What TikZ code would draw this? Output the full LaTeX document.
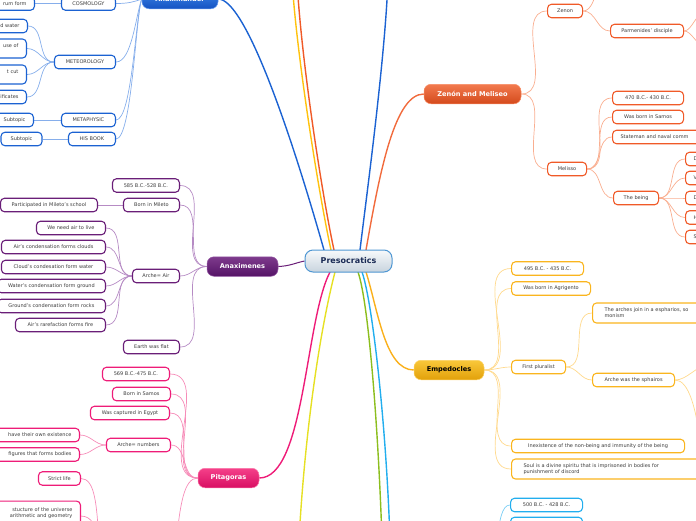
\documentclass[tikz,border=0pt]{standalone}
\usepackage{fontspec}
\setmainfont{DejaVu Sans}
\usetikzlibrary{backgrounds}
\definecolor{cA}{HTML}{1B62D2}\definecolor{lA}{HTML}{86AEEB}
\definecolor{cP}{HTML}{6A1E78}\definecolor{lP}{HTML}{B68BC4}
\definecolor{cK}{HTML}{EE1C78}\definecolor{lK}{HTML}{F68CB8}
\definecolor{cZ}{HTML}{F05A28}\definecolor{lZ}{HTML}{F9AE90}
\definecolor{cE}{HTML}{FAB51E}\definecolor{lE}{HTML}{FFD98C}
\definecolor{cB}{HTML}{22AEEE}\definecolor{cG}{HTML}{8CBE1E}
\definecolor{cY}{HTML}{E6E023}\definecolor{cO}{HTML}{FFC20E}
\definecolor{txt}{HTML}{3C3C3C}
\definecolor{preB}{HTML}{4F97D3}\definecolor{preT}{HTML}{1A2B55}
\definecolor{preTop}{HTML}{F7F9FB}\definecolor{preBot}{HTML}{C8D4DE}
\tikzset{
 sub/.style={draw, line width=1.1pt, rounded corners=4pt, fill=white, text=txt,
   font=\fontsize{5}{6.2}\selectfont, inner xsep=8pt, inner ysep=1pt, minimum height=13.5pt},
 topic/.style={rounded corners=7pt, minimum height=19.5pt, text=white, line width=0.5pt,
   font=\bfseries\fontsize{6.6}{8}\selectfont, inner sep=0pt},
 lnk/.style={line width=0.7pt},
 big/.style={line width=1.4pt},
}
\begin{document}
\begin{tikzpicture}[x=1pt,y=-1pt]
\useasboundingbox (0,0) rectangle (696,520);

% ---------- central ----------
\node[draw=preB, line width=1pt, rounded corners=8pt, top color=preTop, bottom color=preBot,
  minimum width=87pt, minimum height=22pt, inner sep=0pt, text=preT,
  font=\bfseries\fontsize{8}{9}\selectfont] (pre) at (348.5,261) {Presocratics};

% ---------- Anaximander ----------
\node[topic, draw={rgb,255:red,110;green,160;blue,240}, top color={rgb,255:red,63;green,136;blue,234}, bottom color={rgb,255:red,21;green,83;blue,194}, minimum width=76pt] (anaxr) at (180,-1) {Anaximander};
\node[sub, draw=cA, minimum width=54pt, anchor=east] (cosmo) at (116,3.5) {COSMOLOGY};
\node[sub, draw=cA, text width=60pt, align=right, anchor=east] (cosmoc) at (35,3.5) {rum form};
\node[sub, draw=cA, minimum width=61pt, anchor=east] (meteo) at (116,62) {METEOROLOGY};
\node[sub, draw=cA, text width=50pt, align=right, anchor=east] (m1) at (28,26) {d water};
\node[sub, draw=cA, text width=50pt, align=right, anchor=east, minimum height=19pt] (m2) at (27,48.5) {use of\\\mbox{}};
\node[sub, draw=cA, text width=50pt, align=right, anchor=east, minimum height=19pt] (m3) at (27,74.5) {t cut\\\mbox{}};
\node[sub, draw=cA, text width=50pt, align=right, anchor=east] (m4) at (27,97) {ificates};
\node[sub, draw=cA, minimum width=54pt, anchor=east] (meta) at (116,120) {METAPHYSIC};
\node[sub, draw=cA, text width=40pt, align=right, anchor=east] (metac) at (34,120) {Subtopic};
\node[sub, draw=cA, minimum width=47pt, anchor=east] (book) at (116,139) {HIS BOOK};
\node[sub, draw=cA, minimum width=41pt] (bookc) at (21.5,139) {Subtopic};

% ---------- Anaximenes ----------
\node[topic, draw={rgb,255:red,150;green,90;blue,165}, top color={rgb,255:red,126;green,58;blue,140}, bottom color={rgb,255:red,85;green,20;blue,103}, minimum width=71pt] (anaxm) at (242.5,266.5) {Anaximenes};
\node[sub, draw=cP, minimum width=67pt, anchor=east] (a1) at (180,185.5) {585 B.C.-528 B.C.};
\node[sub, draw=cP, minimum width=56pt, anchor=east] (a2) at (180,205) {Born in Mileto};
\node[sub, draw=cP, minimum width=97pt, anchor=east] (a2c) at (98,205) {Participated in Mileto's school};
\node[sub, draw=cP, minimum width=47pt, anchor=east] (a3) at (180,276) {Arche= Air};
\node[sub, draw=cP, minimum width=69pt, anchor=east] (a31) at (106,228) {We need air to live};
\node[sub, draw=cP, minimum width=104pt, anchor=east] (a32) at (106,247) {Air's condensation forms clouds};
\node[sub, draw=cP, minimum width=104pt, anchor=east] (a33) at (106,267) {Cloud's condesation form water};
\node[sub, draw=cP, minimum width=108pt, anchor=east] (a34) at (106,286) {Water's condensation form ground};
\node[sub, draw=cP, minimum width=108pt, anchor=east] (a35) at (106,306) {Ground's condensation form rocks};
\node[sub, draw=cP, minimum width=90pt, anchor=east] (a36) at (106,325) {Air's rarefaction forms fire};
\node[sub, draw=cP, minimum width=56pt, anchor=east] (a4) at (180,347) {Earth was flat};

% ---------- Pitagoras ----------
\node[topic, draw={rgb,255:red,250;green,120;blue,170}, top color={rgb,255:red,245;green,64;blue,138}, bottom color={rgb,255:red,216;green,14;blue,98}, minimum width=61pt] (pita) at (228.5,478) {Pitagoras};
\node[sub, draw=cK, minimum width=67pt, anchor=east] (p1) at (170,374) {569 B.C.-475 B.C.};
\node[sub, draw=cK, minimum width=58pt, anchor=east] (p2) at (171,394) {Born in Samos};
\node[sub, draw=cK, minimum width=79pt, anchor=east] (p3) at (170,413) {Was captured in Egypt};
\node[sub, draw=cK, minimum width=64pt, anchor=east] (p4) at (171,445) {Arche= numbers};
\node[sub, draw=cK, text width=78pt, align=right, anchor=east] (p4a) at (80,435) {have their own existence};
\node[sub, draw=cK, text width=78pt, align=right, anchor=east] (p4b) at (80,454.5) {figures that forms bodies};
\node[sub, draw=cK, minimum width=42pt, anchor=east] (p5) at (81,478.5) {Strict life};
\node[sub, draw=cK, text width=70pt, align=right, anchor=north east, minimum height=30pt, inner ysep=3pt] (p6) at (81,500.5) {stucture of the universe\hspace*{5pt}\\arithmetic and geometry\\\mbox{}};
\coordinate (pbelow) at (99,545);
\coordinate (pitabelow) at (176,545);

% ---------- Zenon and Meliseo ----------
\node[topic, draw={rgb,255:red,248;green,140;blue,100}, top color={rgb,255:red,242;green,122;blue,78}, bottom color={rgb,255:red,212;green,74;blue,28}, minimum width=97pt] (zen) at (472.5,94) {Zenón and Meliseo};
\node[sub, draw=cZ, minimum width=35pt, anchor=west] (z1) at (547,11) {Zenon};
\coordinate (z1up) at (597,-12);
\node[sub, draw=cZ, minimum width=73pt, anchor=west] (z2) at (610,31) {Parmenides' disciple};
\coordinate (z2a) at (706,12);
\coordinate (z2b) at (706,46);
\node[sub, draw=cZ, minimum width=39pt, anchor=west] (z3) at (547,169) {Melisso};
\node[sub, draw=cZ, minimum width=71pt, anchor=west] (z31) at (612,98) {470 B.C.- 430 B.C.};
\node[sub, draw=cZ, minimum width=71pt, anchor=west] (z32) at (612,117) {Was born in Samos};
\node[sub, draw=cZ, text width=110pt, align=left, anchor=west] (z33) at (612,137) {Stateman and naval comm};
\node[sub, draw=cZ, minimum width=45pt, anchor=west] (z34) at (613,198) {The being};
\node[sub, draw=cZ, text width=40pt, align=left, anchor=west] (b1) at (685,159) {D};
\node[sub, draw=cZ, text width=40pt, align=left, anchor=west] (b2) at (685,178) {V};
\node[sub, draw=cZ, text width=40pt, align=left, anchor=west] (b3) at (685,198) {D};
\node[sub, draw=cZ, text width=40pt, align=left, anchor=west] (b4) at (685,217.5) {H};
\node[sub, draw=cZ, text width=40pt, align=left, anchor=west] (b5) at (685,237) {S};

% ---------- Empedocles ----------
\node[topic, draw={rgb,255:red,252;green,210;blue,100}, top color={rgb,255:red,249;green,199;blue,58}, bottom color={rgb,255:red,226;green,160;blue,10}, minimum width=70pt, text=black] (emp) at (449,370) {Empedocles};
\node[sub, draw=cE, minimum width=72pt, anchor=west] (e1) at (511,268.5) {495 B.C. - 435 B.C.};
\node[sub, draw=cE, minimum width=79pt, anchor=west] (e2) at (511,288.5) {Was born in Agrigento};
\node[sub, draw=cE, minimum width=54pt, anchor=west] (e3) at (511,367) {First pluralist};
\node[sub, draw=cE, text width=140pt, align=left, anchor=west, inner xsep=12pt, minimum height=20pt] (e3a) at (592,313) {The arches join in a espharios, so\\monism};
\node[sub, draw=cE, minimum width=82pt, anchor=west] (e3b) at (592,380) {Arche was the sphairos};
\coordinate (e3ba) at (706,366);
\coordinate (e3bb) at (700,440);
\node[sub, draw=cE, minimum width=173pt, anchor=west] (e4) at (511,446) {Inexistence of the non-being and immunity of the being};
\node[sub, draw=cE, text width=190pt, align=left, anchor=west, inner xsep=12pt, minimum height=20pt] (e5) at (511,469) {Soul is a divine spiritu that is imprisoned in bodies for\\punishment of discord};

% ---------- light blue branch ----------
\node[sub, draw=cB, minimum width=72pt, anchor=west] (lb1) at (510,505) {500 B.C. - 428 B.C.};
\node[sub, draw=cB, minimum width=72pt, anchor=west] (lb2) at (510,524) {};
\coordinate (lbpar) at (497,545);

% off-page ends of main branches
\coordinate (upY) at (292,-20);
\coordinate (upO) at (297,-20);
\coordinate (upB) at (388,-20);
\coordinate (dnY) at (299,540);
\coordinate (dnG) at (382,540);
\coordinate (dnB) at (390,540);

\begin{scope}[on background layer]
% main connectors
\draw[big, cA] (324,250) .. controls (290,130) and (245,-1) .. (anaxr.east);
\draw[big, cO] (331,250) .. controls (320,200) and (297,60) .. (upY);
\draw[big, cZ] (334,250) .. controls (323,200) and (301,60) .. (upO);
\draw[big, cA] (360,250) .. controls (366,200) and (385,60) .. (upB);
\draw[big, cZ!90!white] (366,250) .. controls (380,170) and (395,94) .. (zen.west);
\draw[line width=1pt, cP] (pre.west) .. controls (295,263) and (290,266) .. (anaxm.east);
\draw[big, cK] (330,272) .. controls (305,320) and (305,478) .. (pita.east);
\draw[big, cY] (335,272) .. controls (320,330) and (305,430) .. (dnY);
\draw[big, cG] (358,272) .. controls (368,300) and (378,420) .. (dnG);
\draw[big, cB] (362,272) .. controls (372,300) and (386,420) .. (dnB);
\draw[big, cE!90!orange] (366,272) .. controls (378,310) and (385,370) .. (emp.west);

% Anaximander
\draw[lnk, lA] (cosmoc.east) -- (cosmo.west);
\foreach \c in {m1,m2,m3,m4} \draw[lnk, lA] (\c.east) to[out=0,in=180] (meteo.west);
\draw[lnk, lA] (metac.east) -- (meta.west);
\draw[lnk, lA] (bookc.east) -- (book.west);
\draw[lnk, lA] (cosmo.east) .. controls +(12,0) and +(-8,3) .. (anaxr.west);
\foreach \c in {meteo,meta,book} \draw[lnk, lA] (\c.east) .. controls +(16,0) and +(-6,16) .. (anaxr.west);

% Anaximenes
\draw[lnk, lP] (a2c.east) -- (a2.west);
\foreach \c in {a31,a32,a33,a34,a35,a36} \draw[lnk, lP] (\c.east) to[out=0,in=180] (a3.west);
\foreach \c in {a1,a2,a3,a4} \draw[lnk, lP] (\c.east) to[out=0,in=180] (anaxm.west);

% Pitagoras
\foreach \c in {p1,p2,p3,p4} \draw[lnk, lK] (\c.east) to[out=0,in=180] (pita.west);
\foreach \c in {p4a,p4b} \draw[lnk, lK] (\c.east) to[out=0,in=180] (p4.west);
\draw[lnk, lK] (p5.east) .. controls +(14,0) and +(-2,-40) .. (pbelow);
\draw[lnk, lK] (p6.east) .. controls +(10,0) and +(-2,-20) .. (pbelow);
\draw[lnk, lK] (pita.west) .. controls +(-14,0) and +(4,-40) .. (pitabelow);

% Zenon
\foreach \c in {z1,z3} \draw[lnk, lZ] (zen.east) to[out=0,in=180] (\c.west);
\draw[lnk, lZ] (z1.east) .. controls +(8,0) and +(-2,10) .. (z1up);
\draw[lnk, lZ] (z1.east) to[out=0,in=180] (z2.west);
\draw[lnk, lZ] (z2.east) .. controls +(8,0) and +(-10,0) .. (z2a);
\draw[lnk, lZ] (z2.east) .. controls +(8,0) and +(-10,0) .. (z2b);
\foreach \c in {z31,z32,z33,z34} \draw[lnk, lZ] (z3.east) to[out=0,in=180] (\c.west);
\foreach \c in {b1,b2,b3,b4,b5} \draw[lnk, lZ] (z34.east) to[out=0,in=180] (\c.west);

% Empedocles
\foreach \c in {e1,e2,e3,e4,e5} \draw[lnk, lE] (emp.east) to[out=0,in=180] (\c.west);
\foreach \c in {e3a,e3b} \draw[lnk, lE] (e3.east) to[out=0,in=180] (\c.west);
\draw[lnk, lE] (e3b.east) .. controls +(12,0) and +(-10,0) .. (e3ba);
\draw[lnk, lE] (e3b.east) .. controls +(14,0) and +(-4,-30) .. (e3bb);

% light blue
\foreach \c in {lb1,lb2} \draw[lnk, cB!60!white] (lbpar) .. controls +(2,-25) and +(-8,0) .. (\c.west);
\end{scope}
\end{tikzpicture}
\end{document}
